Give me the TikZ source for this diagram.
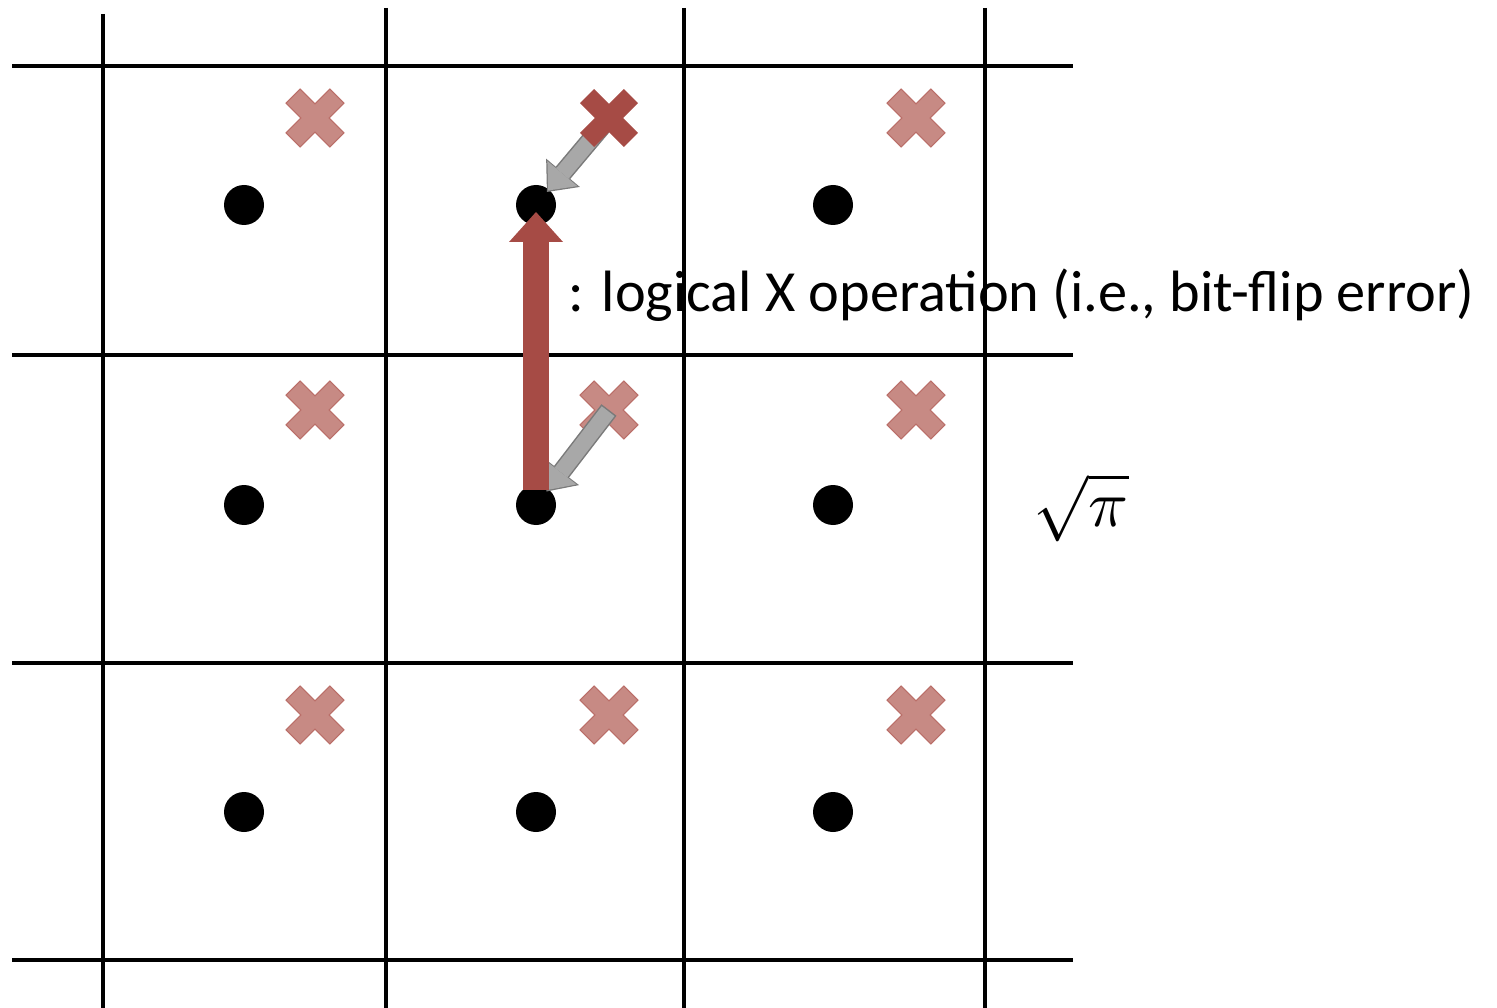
\documentclass[tikz,border=0pt]{standalone}
\usepackage{fontspec}
\setmainfont{Carlito}
\usetikzlibrary{arrows.meta}
\definecolor{errred}{RGB}{166,75,69}
\definecolor{errfade}{RGB}{199,138,132}
\definecolor{errfadeedge}{RGB}{186,110,104}
\definecolor{hopfill}{RGB}{168,168,168}
\definecolor{hopedge}{RGB}{122,122,122}
\tikzstyle{qubit} = [
    circle,
    fill=black,
    minimum size=40pt,
    inner sep=0pt
]
\tikzstyle{gridline} = [line width=4pt, black]
\tikzstyle{fadecross} = [fill=errfade, draw=errfadeedge, line width=1pt]
\tikzstyle{errcross} = [fill=errred]
\tikzstyle{hopout} = [
    line width=19pt,
    draw=hopedge,
    -{Triangle[width=44pt,length=25pt,line width=0pt]},
    shorten >=17pt
]
\tikzstyle{hopin} = [
    line width=16pt,
    draw=hopfill,
    -{Triangle[width=39pt,length=22pt,line width=0pt]},
    shorten >=19pt,
    shorten <=1.5pt
]
\tikzstyle{flip} = [
    line width=26pt,
    draw=errred,
    -{Triangle[width=54pt,length=30pt,line width=0pt]},
    shorten <=15pt,
    shorten >=7pt
]
% cross mark centred on a named coordinate
\newcommand{\xmark}[2]{%
  \path[#2, shift={(#1)}, rotate=45]
    (-10,31) -- (10,31) -- (10,10) -- (31,10) -- (31,-10) -- (10,-10)
    -- (10,-31) -- (-10,-31) -- (-10,-10) -- (-31,-10) -- (-31,10)
    -- (-10,10) -- cycle;}

\begin{document}
\begin{tikzpicture}[x=1pt, y=-1pt]

\useasboundingbox (0,0) rectangle (1497,1008);

\node (lbl) [anchor=base west, font=\fontsize{58.3}{70}\selectfont] at (565,312)
{: logical X operation (i.e., bit-flip error)};

\node (len) at (1081,508) {\scalebox{6.6}{$\sqrt{\pi}$}};

% lattice
\draw [gridline] (103,14) -- (103,1008);
\draw [gridline] (386,8) -- (386,1008);
\draw [gridline] (684,8) -- (684,1008);
\draw [gridline] (985,8) -- (985,1008);
\draw [gridline] (12,66) -- (1073,66);
\draw [gridline] (12,355) -- (1073,355);
\draw [gridline] (12,663) -- (1073,663);
\draw [gridline] (12,960) -- (1073,960);

% qubits
\node (d11) [qubit] at (244,205) {};
\node (d12) [qubit] at (536,205) {};
\node (d13) [qubit] at (833,205) {};
\node (d21) [qubit] at (244,505) {};
\node (d22) [qubit] at (536,505) {};
\node (d23) [qubit] at (833,505) {};
\node (d31) [qubit] at (244,812) {};
\node (d32) [qubit] at (536,812) {};
\node (d33) [qubit] at (833,812) {};

% error sites
\coordinate (x11) at (315,118);
\coordinate (x12) at (609,118);
\coordinate (x13) at (916,118);
\coordinate (x21) at (315,410);
\coordinate (x22) at (609,410);
\coordinate (x23) at (916,410);
\coordinate (x31) at (315,715);
\coordinate (x32) at (609,715);
\coordinate (x33) at (916,715);

\xmark{x11}{fadecross}
\xmark{x13}{fadecross}
\xmark{x21}{fadecross}
\xmark{x22}{fadecross}
\xmark{x23}{fadecross}
\xmark{x31}{fadecross}
\xmark{x32}{fadecross}
\xmark{x33}{fadecross}

\draw [hopout] (x12) -- (d12.center);
\draw [hopin] (x12) -- (d12.center);
\draw [hopout] (x22) -- (d22.center);
\draw [hopin] (x22) -- (d22.center);

\xmark{x12}{errcross}

\draw [flip] (d22.center) -- (d12.center);

\end{tikzpicture}
\end{document}
